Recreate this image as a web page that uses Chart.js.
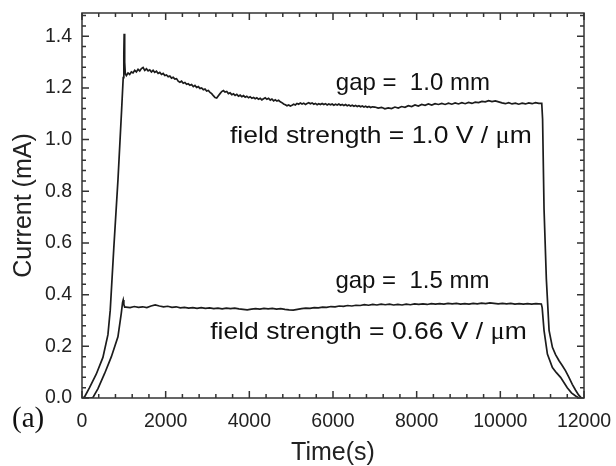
<!DOCTYPE html>
<html>
<head>
<meta charset="utf-8">
<script src="https://cdn.jsdelivr.net/npm/chart.js@4/dist/chart.umd.min.js"></script>
<style>
  html, body { margin: 0; padding: 0; background: #fff; }
</style>
</head>
<body>
<canvas id="current-graph" width="616" height="466"></canvas>
<script>
// gap = 1.0 mm run
const timeGap10 = [
  0, 60, 180, 340, 500, 620, 675, 760, 860, 947, 985, 1000, 1008, 1020, 1035, 1060,
  1100, 1140, 1180, 1220, 1260, 1300, 1340, 1380, 1420, 1460, 1500, 1540, 1580, 1620,
  1660, 1700, 1740, 1780, 1820, 1860, 1900, 1940, 1980, 2020, 2060, 2100, 2140, 2180,
  2220, 2260, 2300, 2340, 2380, 2420, 2460, 2500, 2540, 2580, 2620, 2660, 2700, 2740,
  2780, 2820, 2860, 2900, 2940, 2980, 3020, 3060, 3100, 3140, 3180, 3220, 3260, 3300,
  3340, 3380, 3420, 3460, 3500, 3540, 3580, 3620, 3660, 3700, 3740, 3780, 3820, 3860,
  3900, 3940, 3980, 4020, 4060, 4100, 4140, 4180, 4220, 4260, 4300, 4340, 4380, 4420,
  4460, 4500, 4540, 4580, 4620, 4660, 4700, 4740, 4780, 4820, 4860, 4900, 4940, 4980,
  5020, 5060, 5100, 5140, 5180, 5220, 5260, 5300, 5340, 5380, 5420, 5460, 5500, 5540,
  5580, 5620, 5660, 5700, 5740, 5780, 5820, 5860, 5900, 5940, 5980, 6020, 6060, 6100,
  6140, 6180, 6220, 6260, 6300, 6340, 6380, 6420, 6460, 6500, 6540, 6580, 6620, 6660,
  6700, 6740, 6780, 6820, 6860, 6900, 6940, 7000, 7080, 7160, 7240, 7320, 7400, 7480,
  7560, 7640, 7720, 7800, 7880, 7960, 8040, 8120, 8200, 8280, 8360, 8440, 8520, 8600,
  8680, 8760, 8840, 8920, 9000, 9080, 9160, 9240, 9320, 9400, 9480, 9560, 9640, 9720,
  9800, 9880, 9960, 10040, 10120, 10200, 10280, 10360, 10440, 10520, 10600, 10680,
  10760, 10840, 10920, 10990, 11010, 11045, 11100, 11165, 11245, 11320, 11400, 11480,
  11560, 11640, 11720, 11800, 11870, 11940
];
const currentGap10 = [
  0, 0.004, 0.04, 0.092, 0.157, 0.245, 0.34, 0.58, 0.845, 1.115, 1.24, 1.33, 1.41, 1.30, 1.255, 1.248,
  1.258, 1.252, 1.262, 1.258, 1.268, 1.262, 1.272, 1.266, 1.275, 1.279, 1.268, 1.274, 1.266, 1.27,
  1.262, 1.268, 1.26, 1.265, 1.256, 1.26, 1.252, 1.256, 1.248, 1.25, 1.243, 1.246, 1.238, 1.241,
  1.234, 1.236, 1.226, 1.222, 1.226, 1.218, 1.221, 1.214, 1.216, 1.21, 1.213, 1.205, 1.21, 1.202,
  1.205, 1.198, 1.2, 1.193, 1.196, 1.188, 1.19, 1.183, 1.178, 1.17, 1.163, 1.161, 1.17, 1.178,
  1.186, 1.19, 1.184, 1.186, 1.178, 1.181, 1.174, 1.177, 1.171, 1.175, 1.168, 1.172, 1.166, 1.17,
  1.164, 1.168, 1.162, 1.166, 1.16, 1.163, 1.158, 1.162, 1.156, 1.16, 1.154, 1.158, 1.162, 1.156,
  1.16, 1.153, 1.157, 1.15, 1.154, 1.149, 1.152, 1.146, 1.143, 1.138, 1.135, 1.131, 1.134, 1.13,
  1.133, 1.137, 1.134, 1.14, 1.137, 1.142, 1.138, 1.141, 1.136, 1.14, 1.143, 1.139, 1.142, 1.137,
  1.14, 1.135, 1.139, 1.136, 1.14, 1.136, 1.139, 1.134, 1.138, 1.135, 1.138, 1.133, 1.137, 1.134,
  1.138, 1.133, 1.136, 1.132, 1.136, 1.131, 1.134, 1.13, 1.133, 1.129, 1.132, 1.128, 1.131, 1.127,
  1.13, 1.126, 1.129, 1.125, 1.128, 1.124, 1.127, 1.126, 1.122, 1.125, 1.119, 1.123, 1.12, 1.126,
  1.122, 1.128, 1.125, 1.131, 1.128, 1.134, 1.13, 1.136, 1.133, 1.138, 1.134, 1.139, 1.136, 1.14,
  1.136, 1.141, 1.137, 1.142, 1.138, 1.143, 1.139, 1.144, 1.14, 1.145, 1.143, 1.148, 1.146, 1.151,
  1.147, 1.15, 1.146, 1.142, 1.139, 1.143, 1.138, 1.141, 1.137, 1.141, 1.138, 1.142,
  1.139, 1.143, 1.14, 1.14, 1.08, 0.73, 0.46, 0.262, 0.196, 0.168, 0.145, 0.126,
  0.105, 0.08, 0.053, 0.03, 0.012, 0
];

// gap = 1.5 mm run
const timeGap15 = [
  0, 200, 262, 382, 541, 700, 859, 938, 970, 985, 1000, 1020, 1050, 1150, 1250, 1350,
  1450, 1550, 1650, 1750, 1850, 1950, 2050, 2150, 2250, 2350, 2450, 2550, 2650, 2750,
  2850, 2950, 3050, 3150, 3250, 3350, 3450, 3550, 3650, 3750, 3850, 3950, 4050, 4150,
  4250, 4350, 4450, 4550, 4650, 4750, 4850, 4950, 5050, 5150, 5250, 5350, 5450, 5550,
  5650, 5750, 5850, 5950, 6050, 6150, 6250, 6350, 6450, 6550, 6650, 6750, 6850, 6950,
  7050, 7150, 7250, 7350, 7450, 7550, 7650, 7750, 7850, 7950, 8050, 8150, 8250, 8350,
  8450, 8550, 8650, 8750, 8850, 8950, 9050, 9150, 9250, 9350, 9450, 9550, 9650, 9750,
  9850, 9950, 10050, 10150, 10250, 10350, 10450, 10550, 10650, 10750, 10850, 10980,
  11000, 11045, 11125, 11245, 11340, 11440, 11520, 11600, 11700, 11800, 11880
];
const currentGap15 = [
  0, 0, 0.002, 0.036, 0.095, 0.159, 0.237, 0.327, 0.37, 0.379, 0.362, 0.352, 0.352, 0.35, 0.354, 0.351,
  0.353, 0.35, 0.356, 0.36, 0.356, 0.353, 0.355, 0.351, 0.353, 0.349, 0.351, 0.348, 0.35, 0.347,
  0.35, 0.347, 0.349, 0.346, 0.348, 0.345, 0.348, 0.346, 0.348, 0.345, 0.343, 0.341, 0.344, 0.346,
  0.344, 0.347, 0.345, 0.347, 0.344, 0.346, 0.343, 0.341, 0.34, 0.343, 0.346, 0.348, 0.347, 0.35,
  0.349, 0.352, 0.351, 0.354, 0.353, 0.356, 0.355, 0.358, 0.356, 0.359, 0.358, 0.361, 0.359, 0.362,
  0.36, 0.363, 0.361, 0.363, 0.36, 0.362, 0.36, 0.363, 0.361, 0.364, 0.362, 0.364, 0.362, 0.365,
  0.363, 0.365, 0.363, 0.366, 0.364, 0.366, 0.363, 0.365, 0.363, 0.366, 0.364, 0.367, 0.365, 0.368,
  0.366, 0.364, 0.366, 0.364, 0.366, 0.363, 0.365, 0.363, 0.365, 0.363, 0.365, 0.364,
  0.35, 0.261, 0.17, 0.118, 0.098, 0.08, 0.06, 0.04, 0.02, 0.008, 0
];

const xTickValues = [0, 2000, 4000, 6000, 8000, 10000, 12000];
const yTickValues = [0, 0.2, 0.4, 0.6, 0.8, 1.0, 1.2, 1.4];

const toPoints = (ts, vs) => ts.map((t, i) => ({ x: t, y: vs[i] }));

// text pieces: [string, font]; the micro sign is set in a serif face
const gapFont = '24px Arial, "Liberation Sans", sans-serif';
const fieldFont = '24.5px Arial, "Liberation Sans", sans-serif';
const muFont = '24.5px "Liberation Serif", "Times New Roman", serif';
const notes = [
  { at: [9750, 1.193], sx: 1, runs: [['gap =  1.0 mm', gapFont]] },
  { at: [10750, 0.988], sx: 1.08, runs: [['field strength = 1.0 V / ', fieldFont], ['\u03bc', muFont], ['m', fieldFont]] },
  { at: [9740, 0.425], sx: 1, runs: [['gap =  1.5 mm', gapFont]] },
  { at: [10630, 0.23], sx: 1.08, runs: [['field strength = 0.66 V / ', fieldFont], ['\u03bc', muFont], ['m', fieldFont]] }
];

const frameAndNotes = {
  id: 'frameAndNotes',
  afterDatasetsDraw(chart) {
    const { ctx, chartArea: a, scales: { x, y } } = chart;
    ctx.save();
    ctx.strokeStyle = '#333';
    ctx.lineWidth = 1.5;
    ctx.strokeRect(a.left, a.top, a.right - a.left, a.bottom - a.top);

    // inward ticks on every side
    ctx.beginPath();
    for (let v = 0; v <= 12000; v += 400) {
      const px = x.getPixelForValue(v);
      const len = v % 2000 === 0 ? 7 : 4;
      ctx.moveTo(px, a.bottom); ctx.lineTo(px, a.bottom - len);
      ctx.moveTo(px, a.top); ctx.lineTo(px, a.top + len);
    }
    for (let i = 0; i <= 37; i++) {
      const py = y.getPixelForValue(i * 0.04);
      const len = i % 5 === 0 ? 7 : 4;
      ctx.moveTo(a.left, py); ctx.lineTo(a.left + len, py);
      ctx.moveTo(a.right, py); ctx.lineTo(a.right - len, py);
    }
    ctx.stroke();

    // annotations, right-aligned on their anchor, optionally widened
    ctx.fillStyle = '#111';
    ctx.textBaseline = 'alphabetic';
    notes.forEach(n => {
      let width = 0;
      n.runs.forEach(([s, f]) => { ctx.font = f; width += ctx.measureText(s).width; });
      ctx.save();
      ctx.translate(x.getPixelForValue(n.at[0]) - width * n.sx, y.getPixelForValue(n.at[1]));
      ctx.scale(n.sx, 1);
      let px = 0;
      n.runs.forEach(([s, f]) => {
        ctx.font = f;
        ctx.fillText(s, px, 0);
        px += ctx.measureText(s).width;
      });
      ctx.restore();
    });

    ctx.font = '29px "Liberation Serif", "Times New Roman", serif';
    ctx.fillText('(a)', 12, 427);
    ctx.restore();
  }
};

new Chart(document.getElementById('current-graph'), {
  type: 'scatter',
  data: {
    datasets: [
      { data: toPoints(timeGap10, currentGap10) },
      { data: toPoints(timeGap15, currentGap15) }
    ]
  },
  options: {
    responsive: false,
    animation: false,
    showLine: true,
    layout: { padding: { top: 13, right: 32, left: 0, bottom: 0 } },
    elements: {
      point: { radius: 0 },
      line: { borderColor: '#1c1c1c', borderWidth: 1.7, tension: 0, fill: false }
    },
    plugins: { legend: { display: false }, tooltip: { enabled: false } },
    scales: {
      x: {
        type: 'linear',
        min: 0,
        max: 12000,
        grid: { display: false, drawTicks: false },
        border: { display: false },
        afterBuildTicks: s => { s.ticks = xTickValues.map(v => ({ value: v })); },
        // fixed band height, no extra room for the end labels
        afterFit: s => { s.height = 68; s.paddingLeft = 0; s.paddingRight = 0; },
        ticks: {
          padding: 12,
          maxRotation: 0,
          color: '#222',
          font: { family: 'Arial, "Liberation Sans", sans-serif', size: 19.5 },
          callback: v => String(v)
        },
        title: {
          display: true,
          text: 'Time(s)',
          color: '#222',
          font: { family: 'Arial, "Liberation Sans", sans-serif', size: 25 },
          padding: { top: 0, bottom: -2 }
        }
      },
      y: {
        min: 0,
        max: 1.49,
        grid: { display: false, drawTicks: false },
        border: { display: false },
        afterBuildTicks: s => { s.ticks = yTickValues.map(v => ({ value: v })); },
        afterFit: s => { s.width = 82; s.paddingTop = 0; s.paddingBottom = 0; },
        ticks: {
          padding: 10,
          color: '#222',
          font: { family: 'Arial, "Liberation Sans", sans-serif', size: 19.5 },
          callback: v => v.toFixed(1)
        },
        title: {
          display: true,
          text: 'Current (mA)',
          color: '#222',
          font: { family: 'Arial, "Liberation Sans", sans-serif', size: 25 },
          padding: { top: 9, bottom: 0 }
        }
      }
    }
  },
  plugins: [frameAndNotes]
});
</script>
</body>
</html>
